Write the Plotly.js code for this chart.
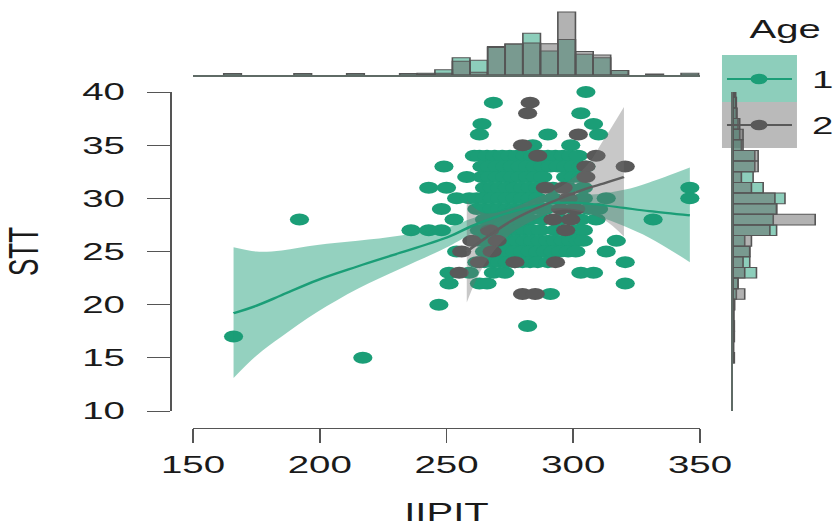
<!DOCTYPE html>
<html><head><meta charset="utf-8">
<script src="https://cdn.plot.ly/plotly-3.0.1.min.js"></script>
<style>
html,body{margin:0;padding:0;overflow:hidden;background:#fff}
#wrap{width:836px;height:526px;overflow:hidden}
#plot{width:522px;height:526px;transform:scaleX(1.6015);transform-origin:0 0}
</style>
</head><body><div id="wrap"><div id="plot"></div></div>
<script>
// ---------- data ----------
const groups = ['1', '2'];
const legendTitle = 'Age';
const xTitle = 'IIPIT';
const yTitle = 'STT';
const xTicks = [150, 200, 250, 300, 350];
const yTicks = [10, 15, 20, 25, 30, 35, 40];

const age1X = [166,192,217,247,282,236,243,248,243,250,249,258,254,259,253,254,251,251,248,
  268.5,305,303,308,264,263,290,310,284,299,261,
  346,346,331.5,320.5,320.5,313,317,309,313,303,308,
  263,266,268.5,273,259,291,267,
  263,266,269,272,275,278,281,284,287,290,293,296,299,302,
  264,267,270,273,276,279,282,285,288,291,294,297,300,303,305,
  264,267,270,273,276,279,282,285,288,297,300,303,
  265,268,271,274,277,280,283,286,292,298,304,
  262,265,268,271,274,277,280,283,286,292,304,
  262,265,268,271,274,277,280,283,286,289,300,306,310,
  265,268,271,274,277,280,283,288,295,303,
  263,266,269,272,275,278,281,284,287,293,301,304,
  263,266,269,272,275,278,281,284,287,290,293,296,299,302,304,
  265,268,271,274,277,280,283,286,289,292,295,298,301,
  262,265,268,271,274,277,280,283,286,290];
const age1Y = [17,28,15,20,18,27,27,29,31,31,33,32,30,30,28,25,23,22,27,
  39,40,38,37,37,36,36,36,35,35,34,
  31,30,28,22,24,25,26,28,30,23,23,
  22,22,23,23,23,21,25,
  34,34,34,34,34,34,34,34,34,34,34,34,34,34,
  33,33,33,33,33,33,33,33,33,33,33,33,33,33,33,
  32,32,32,32,32,32,32,32,32,32,32,32,
  31,31,31,31,31,31,31,31,31,31,31,
  30,30,30,30,30,30,30,30,30,30,30,
  29,29,29,29,29,29,29,29,29,29,29,29,29,
  28,28,28,28,28,28,28,28,28,28,
  27,27,27,27,27,27,27,27,27,27,27,27,
  26,26,26,26,26,26,26,26,26,26,26,26,26,26,26,
  25,25,25,25,25,25,25,25,25,25,25,25,25,
  24,24,24,24,24,24,24,24,24,24];

const age2X = [283,282,302,280,309,286,320.5,305,305,289,296,301,298,295,
  292,299,297,267,270,260,256,268,263,277,293,255,280,285];
const age2Y = [39,38,36,35,34,34,33,33,32,31,31,29,30,29,
  28,28,27,27,26,26,25,25,24,24,24,23,21,21];

// smoothed fits with confidence limits
const fit1X  = [166,175,185,199,215,232,251,260,270,280,290,300,310,320,330,346];
const fit1Y  = [19.2,19.9,20.9,22.3,23.6,24.9,26.4,27.4,28.3,29.0,29.5,29.6,29.4,29.1,28.8,28.4];
const fit1Lo = [13.1,15.2,17.0,19.3,21.5,23.4,25.5,26.7,27.8,28.5,29.0,29.0,28.3,27.4,26.3,24.0];
const fit1Hi = [25.4,25.0,25.1,25.6,26.0,26.5,27.3,28.1,28.8,29.5,30.0,30.3,30.4,30.8,31.5,32.9];

const fit2X  = [258,265,275,285,295,305,312,320];
const fit2Y  = [25.0,26.2,27.8,29.0,30.0,30.9,31.4,32.0];
const fit2Lo = [20.2,23.8,26.6,28.0,28.9,28.6,28.0,26.4];
const fit2Hi = [29.8,28.6,29.0,30.0,31.1,33.0,35.5,38.6];

// marginal histograms (relative heights)
const topBins = [165.6,193.3,214.1,235.0,241.9,248.9,255.8,262.7,269.7,276.6,283.6,290.5,297.4,304.4,311.3,318.3,332.1,346.0];
const topAge1 = [0.4,0.4,0.4,0.4,0.5,1.5,5.0,4.3,8.3,9.0,12.1,7.0,10.3,6.0,5.0,1.3,0.3,0.5];
const topAge2 = [0,0,0,0,0.3,0.5,4.0,0.8,8.0,9.0,9.3,9.1,18.3,6.8,5.8,1.3,0,0];

const rightBins = [40,39,38,37,36,35,34,33,32,31,30,29,28,27,26,25,24,23,22,21,20,19,18,17,16,15];
const rightAge1 = [0.8,1.0,1.0,1.5,2.0,2.5,6.5,6.5,6.0,9.0,15.5,13.0,12.0,13.0,3.5,5.0,5.0,7.0,1.5,1.0,0.5,0.3,0.4,0.4,0.2,0.4];
const rightAge2 = [0.4,0.8,1.2,2.0,3.0,3.0,7.5,7.5,2.5,5.5,12.5,13.0,24.5,11.0,5.5,5.0,3.0,3.5,1.5,3.5,0.3,0,0,0,0,0];

// ---------- styling / layout ----------
const W = 836, H = 526, S = 836 / 522;
const fx = px => px / W;
const fy = py => 1 - py / H;
const FONT = 'Liberation Sans, Arial, Helvetica, sans-serif';
const txt = '#1a1a1a';
const col1 = '#1b9e77', col2 = '#595959';
const fill1 = 'rgba(27,158,119,0.47)', fill2 = 'rgba(110,110,110,0.38)';
const histLine = {color: '#555555', width: 1};

const traces = [
  {type:'bar', x: topBins, y: topAge1, width: 6.94, xaxis:'x2', yaxis:'y2',
   marker:{color: 'rgba(27,158,119,0.5)', line: histLine}, showlegend:false, hoverinfo:'skip'},
  {type:'bar', x: topBins, y: topAge2, width: 6.94, xaxis:'x2', yaxis:'y2',
   marker:{color: 'rgba(102,102,102,0.5)', line: histLine}, showlegend:false, hoverinfo:'skip'},
  {type:'bar', orientation:'h', y: rightBins, x: rightAge1, width: 1, xaxis:'x3', yaxis:'y3',
   marker:{color: 'rgba(27,158,119,0.5)', line: histLine}, showlegend:false, hoverinfo:'skip'},
  {type:'bar', orientation:'h', y: rightBins, x: rightAge2, width: 1, xaxis:'x3', yaxis:'y3',
   marker:{color: 'rgba(102,102,102,0.5)', line: histLine}, showlegend:false, hoverinfo:'skip'},

  {type:'scatter', mode:'markers', x: age1X, y: age1Y, name: groups[0], cliponaxis:false,
   marker:{color: col1, size: 12}, showlegend:false},
  {type:'scatter', mode:'markers', x: age2X, y: age2Y, name: groups[1], cliponaxis:false,
   marker:{color: col2, size: 12}, showlegend:false},

  {type:'scatter', mode:'lines', x: fit1X, y: fit1Lo, line:{width:0, shape:'spline'}, showlegend:false, hoverinfo:'skip'},
  {type:'scatter', mode:'lines', x: fit1X, y: fit1Hi, line:{width:0, shape:'spline'}, fill:'tonexty', fillcolor: fill1, showlegend:false, hoverinfo:'skip'},
  {type:'scatter', mode:'lines', x: fit2X, y: fit2Lo, line:{width:0, shape:'spline'}, showlegend:false, hoverinfo:'skip'},
  {type:'scatter', mode:'lines', x: fit2X, y: fit2Hi, line:{width:0, shape:'spline'}, fill:'tonexty', fillcolor: fill2, showlegend:false, hoverinfo:'skip'},
  {type:'scatter', mode:'lines', x: fit1X, y: fit1Y, line:{color: col1, width:2.2, shape:'spline'}, showlegend:false},
  {type:'scatter', mode:'lines', x: fit2X, y: fit2Y, line:{color: '#5f5f5f', width:2.2, shape:'spline'}, showlegend:false}
];

const xDom = [fx(193), fx(700)];
const yDom = [fy(411), fy(92)];

// legend built from shapes + annotations
const keyRows = [{py: 79, top: 55, bot: 102, fill: 'rgba(27,158,119,0.5)', col: col1},
                 {py: 125, top: 102, bot: 148, fill: 'rgba(102,102,102,0.45)', col: col2}];
const shapes = [];
const annotations = [{xref:'paper', yref:'paper', x: fx(746), y: fy(29), xanchor:'left', yanchor:'middle',
  text: legendTitle, showarrow:false, font:{family: FONT, size: 25, color: txt}}];
keyRows.forEach((k, i) => {
  shapes.push({type:'rect', xref:'paper', yref:'paper', x0: fx(722), x1: fx(797), y0: fy(k.bot), y1: fy(k.top),
    fillcolor: k.fill, line:{width:0}, layer:'below'});
  shapes.push({type:'line', xref:'paper', yref:'paper', x0: fx(727), x1: fx(792), y0: fy(k.py), y1: fy(k.py),
    line:{color: k.col, width: 2.2}});
  const rx = 8.5, ry = 5.3;
  shapes.push({type:'circle', xref:'paper', yref:'paper', x0: fx(759 - rx), x1: fx(759 + rx),
    y0: fy(k.py + ry), y1: fy(k.py - ry), fillcolor: k.col, line:{width:0}});
  annotations.push({xref:'paper', yref:'paper', x: fx(809), y: fy(k.py + 1), xanchor:'left', yanchor:'middle',
    text: groups[i], showarrow:false, font:{family: FONT, size: 24, color: txt}});
});

const axisBase = {showgrid:false, zeroline:false, showline:true, linecolor:'#555', linewidth:1,
  ticks:'outside', tickcolor:'#555', tickwidth:1, tickfont:{family: FONT, size: 24, color: txt}};

const layout = {
  width: 522, height: 526, margin:{l:0, r:0, t:0, b:0}, paper_bgcolor:'#fff', plot_bgcolor:'rgba(0,0,0,0)',
  barmode:'overlay', bargap:0, showlegend:false, font:{family: FONT, color: txt},
  xaxis: Object.assign({}, axisBase, {domain: xDom, range:[150, 350], anchor:'free', position: fy(428),
    tickvals: xTicks, ticklen: 14, ticklabelstandoff: 1,
    title:{text: xTitle, standoff: 32, font:{family: FONT, size: 25, color: txt}}}),
  yaxis: Object.assign({}, axisBase, {domain: yDom, range:[10, 40], anchor:'free', position: fx(170),
    tickvals: yTicks, ticklen: 23 / S, ticklabelstandoff: 9,
    title:{text: yTitle, standoff: 20, font:{family: FONT, size: 26, color: txt}}}),
  xaxis2: {domain: xDom, range:[150, 350], anchor:'y2', showline:true, linecolor:'#5f6b66', linewidth:1.5,
    showticklabels:false, ticks:'', showgrid:false, zeroline:false},
  yaxis2: {domain:[fy(75), 1], range:[0, 21.8], anchor:'x2', visible:false},
  xaxis3: {domain:[fx(733), 1], range:[0, 30.7], anchor:'y3', visible:false},
  yaxis3: {domain: yDom, range:[10, 40], anchor:'x3', showline:true, linecolor:'#5f6b66', linewidth:1.5,
    showticklabels:false, ticks:'', showgrid:false, zeroline:false},
  shapes: shapes,
  annotations: annotations
};

Plotly.newPlot('plot', traces, layout, {staticPlot:true, displayModeBar:false});
</script></body></html>
